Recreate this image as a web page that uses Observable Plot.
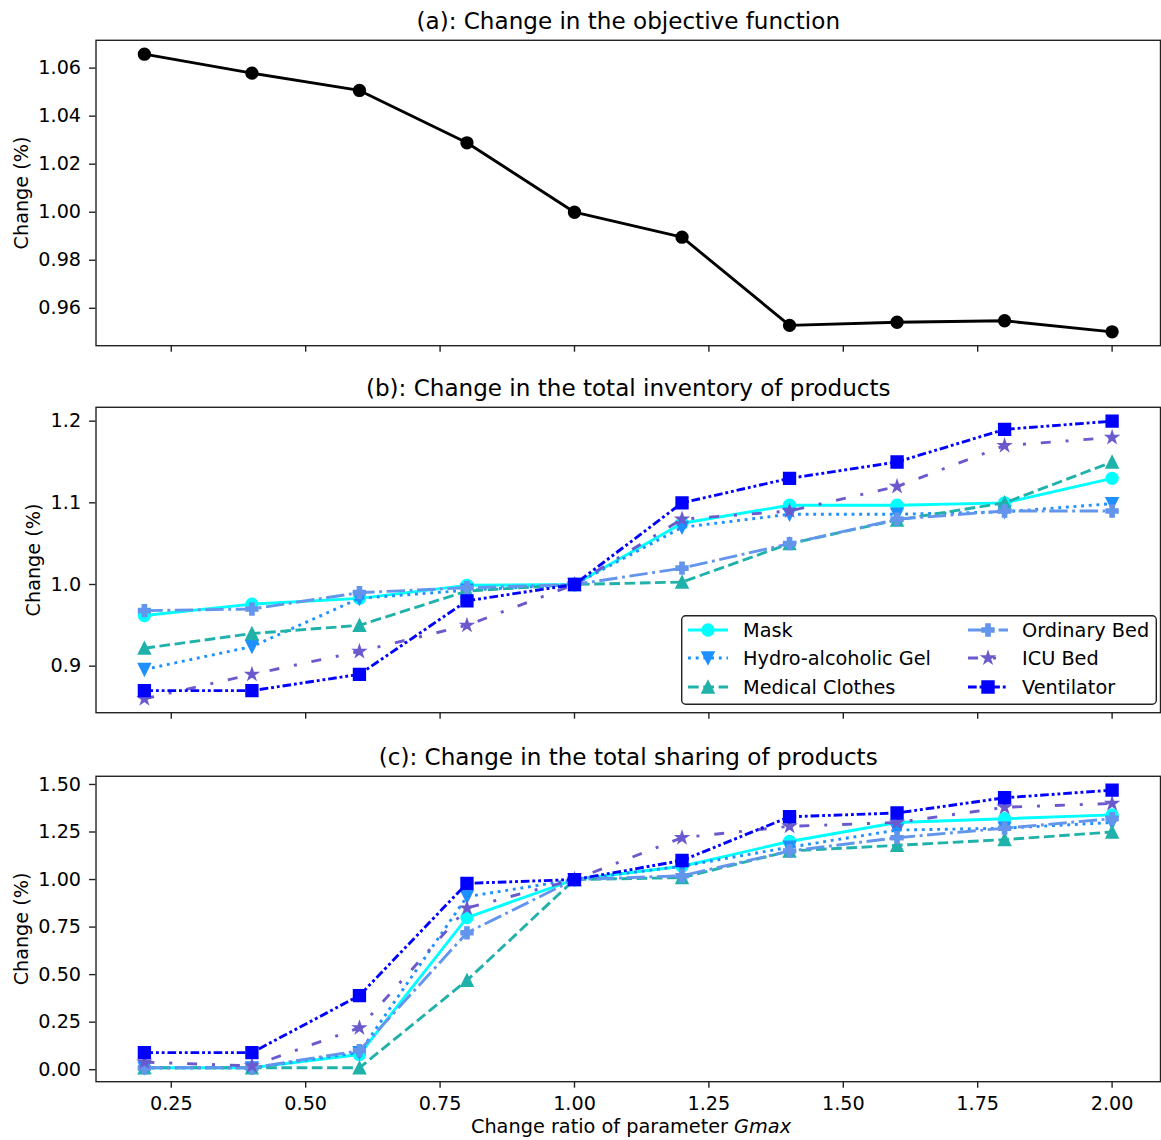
<!DOCTYPE html>
<html><head><meta charset="utf-8">
<script src="https://cdn.jsdelivr.net/npm/d3@7"></script>
<script src="https://cdn.jsdelivr.net/npm/@observablehq/plot@0.6"></script>
<style>
html,body{margin:0;padding:0;background:#fff;overflow:hidden;}
#root{position:relative;width:1161px;height:1140px;overflow:hidden;font-family:"DejaVu Sans",sans-serif;color:#000;}
.panel{position:absolute;left:0;}
#xlabel{position:absolute;left:96px;width:1070px;top:1117px;text-align:center;font-size:19.3px;line-height:20px;}
#legend{position:absolute;left:681px;top:615px;}
</style></head><body><div id="root"><div id="xlabel">Change ratio of parameter <i>Gmax</i></div></div>
<script>
// ---------- data ----------
const ratios = [0.2, 0.4, 0.6, 0.8, 1.0, 1.2, 1.4, 1.6, 1.8, 2.0];
const objective = [1.0658, 1.0579, 1.0507, 1.0289, 1.0000, 0.9896, 0.9529, 0.9542, 0.9548, 0.9502];

const seriesNames = ["Mask", "Hydro-alcoholic Gel", "Medical Clothes", "Ordinary Bed", "ICU Bed", "Ventilator"];

const inventoryMask     = [0.962, 0.976, 0.983, 0.999, 1.000, 1.075, 1.097, 1.097, 1.100, 1.130];
const inventoryGel      = [0.896, 0.924, 0.983, 0.993, 1.000, 1.070, 1.086, 1.086, 1.089, 1.099];
const inventoryClothes  = [0.922, 0.940, 0.950, 0.992, 1.000, 1.003, 1.050, 1.079, 1.100, 1.150];
const inventoryOrdinary = [0.968, 0.970, 0.990, 0.996, 1.000, 1.020, 1.050, 1.080, 1.090, 1.090];
const inventoryICU      = [0.860, 0.890, 0.918, 0.950, 1.000, 1.080, 1.090, 1.120, 1.170, 1.180];
const inventoryVent     = [0.870, 0.870, 0.890, 0.980, 1.000, 1.100, 1.130, 1.150, 1.190, 1.200];

const sharingMask     = [0.01, 0.01, 0.08, 0.80, 1.00, 1.07, 1.20, 1.30, 1.32, 1.34];
const sharingGel      = [0.01, 0.01, 0.09, 0.91, 1.00, 1.07, 1.17, 1.26, 1.27, 1.30];
const sharingClothes  = [0.01, 0.01, 0.01, 0.47, 1.00, 1.01, 1.15, 1.18, 1.21, 1.25];
const sharingOrdinary = [0.01, 0.01, 0.10, 0.72, 1.00, 1.02, 1.15, 1.22, 1.27, 1.32];
const sharingICU      = [0.04, 0.02, 0.22, 0.85, 1.00, 1.22, 1.28, 1.30, 1.38, 1.40];
const sharingVent     = [0.09, 0.09, 0.39, 0.98, 1.00, 1.10, 1.33, 1.35, 1.43, 1.47];

const xTicks  = [0.25, 0.50, 0.75, 1.00, 1.25, 1.50, 1.75, 2.00];
const yTicksA = [0.96, 0.98, 1.00, 1.02, 1.04, 1.06];
const yTicksB = [0.9, 1.0, 1.1, 1.2];
const yTicksC = [0.00, 0.25, 0.50, 0.75, 1.00, 1.25, 1.50];

const titles = ["(a): Change in the objective function",
                "(b): Change in the total inventory of products",
                "(c): Change in the total sharing of products"];
const yLabel = "Change (%)";

// ---------- styles ----------
function poly(ctx, pts){ ctx.moveTo(pts[0][0], pts[0][1]); for (let i=1;i<pts.length;i++) ctx.lineTo(pts[i][0], pts[i][1]); ctx.closePath(); }
const sym = {
  circle: {draw(ctx, size){ const h = Math.sqrt(size/Math.PI); ctx.moveTo(h,0); ctx.arc(0,0,h,0,2*Math.PI); }},
  square: {draw(ctx, size){ const h = Math.sqrt(size/Math.PI); ctx.rect(-h,-h,2*h,2*h); }},
  triUp:  {draw(ctx, size){ const h = Math.sqrt(size/Math.PI); poly(ctx, [[0,-h],[-h,h],[h,h]]); }},
  triDown:{draw(ctx, size){ const h = Math.sqrt(size/Math.PI); poly(ctx, [[0,h],[-h,-h],[h,-h]]); }},
  star:   {draw(ctx, size){ const h = Math.sqrt(size/Math.PI); const inner = h*0.381966; const pts=[];
            for (let i=0;i<10;i++){ const a = -Math.PI/2 + i*Math.PI/5; const rr = i%2===0 ? h : inner; pts.push([rr*Math.cos(a), rr*Math.sin(a)]); }
            poly(ctx, pts); }},
  plus:   {draw(ctx, size){ const h = Math.sqrt(size/Math.PI); const a = h/3;
            poly(ctx, [[-a,-h],[a,-h],[a,-a],[h,-a],[h,a],[a,a],[a,h],[-a,h],[-a,a],[-h,a],[-h,-a],[-a,-a]]); }}
};
const seriesStyle = [
  {color: "#00FFFF", dash: null,                    symbol: sym.circle},
  {color: "#1E90FF", dash: "2.9,4.8",               symbol: sym.triDown},
  {color: "#20B2AA", dash: "10.7,4.6",              symbol: sym.triUp},
  {color: "#6495ED", dash: "18.5,4.6,2.9,4.6",      symbol: sym.plus},
  {color: "#6A5ACD", dash: "10,15,3,15",            symbol: sym.star},
  {color: "#0000FF", dash: "8.7,2.9,2.9,2.9,2.9,2.9", symbol: sym.square}
];
const LW = 2.9, MR = 5.8, MEW = 1.8, FS = 19.3, TFS = 23.2, TICK = 6.5;

const xDomain = [0.11, 2.09];
function padDomain(arrs){ const all = arrs.flat(); const [lo, hi] = d3.extent(all); const m = (hi-lo)*0.05; return [lo-m, hi+m]; }

function seriesMarks(valuesList){
  const marks = [];
  valuesList.forEach((vals, i) => {
    const s = seriesStyle[i];
    marks.push(Plot.line(vals, {x: ratios, y: vals, stroke: s.color, strokeWidth: LW, strokeDasharray: s.dash || undefined, strokeLinecap: "butt", strokeLinejoin: "round"}));
    marks.push(Plot.dot(vals, {x: ratios, y: vals, symbol: s.symbol, r: MR, fill: s.color, stroke: s.color, strokeWidth: MEW}));
  });
  return marks;
}

function makePanel({top, height, marginTop, marginBottom, yDomain, yTicks, yFormat, title, showXLabels, ylabelDx, marks}){
  const plot = Plot.plot({
    width: 1167, height, marginLeft: 96, marginRight: 1, marginTop, marginBottom,
    style: {fontFamily: '"DejaVu Sans", sans-serif', fontSize: FS + "px", color: "#000", background: "transparent", overflow: "visible"},
    x: {domain: xDomain},
    y: {domain: yDomain},
    marks: [
      ...marks,
      Plot.frame({stroke: "#222", strokeWidth: 1.4}),
      Plot.axisX({ticks: xTicks, tickSize: TICK, tickPadding: 8, tickFormat: showXLabels ? d3.format(".2f") : () => "", label: null, stroke: "#222", strokeWidth: 1.4, fontSize: FS}),
      Plot.axisY({ticks: yTicks, tickSize: TICK, tickPadding: 8.5, tickFormat: yFormat, label: null, stroke: "#222", strokeWidth: 1.4, fontSize: FS}),
      Plot.text([title], {text: d => d, frameAnchor: "top", lineAnchor: "bottom", dy: -11, fontSize: TFS, fill: "#000"}),
      Plot.text([yLabel], {text: d => d, frameAnchor: "left", rotate: -90, dx: ylabelDx, textAnchor: "middle", lineAnchor: "middle", fontSize: FS, fill: "#000"})
    ]
  });
  const wrap = document.createElement("div");
  wrap.className = "panel";
  wrap.style.top = top + "px";
  wrap.appendChild(plot);
  document.getElementById("root").appendChild(wrap);
}

// Panel (a)
makePanel({
  top: 0, height: 367, marginTop: 40, marginBottom: 20,
  yDomain: padDomain([objective]), yTicks: yTicksA, yFormat: d3.format(".2f"),
  title: titles[0], showXLabels: false, ylabelDx: -75,
  marks: [
    Plot.line(objective, {x: ratios, y: objective, stroke: "#000", strokeWidth: LW}),
    Plot.dot(objective, {x: ratios, y: objective, symbol: sym.circle, r: MR, fill: "#000", stroke: "#000", strokeWidth: MEW})
  ]
});

// Panel (b)
const inventory = [inventoryMask, inventoryGel, inventoryClothes, inventoryOrdinary, inventoryICU, inventoryVent];
makePanel({
  top: 367, height: 367, marginTop: 40, marginBottom: 20,
  yDomain: padDomain(inventory), yTicks: yTicksB, yFormat: d3.format(".1f"),
  title: titles[1], showXLabels: false, ylabelDx: -62,
  marks: seriesMarks(inventory)
});

// Panel (c)
const sharing = [sharingMask, sharingGel, sharingClothes, sharingOrdinary, sharingICU, sharingVent];
makePanel({
  top: 734, height: 384, marginTop: 42, marginBottom: 35,
  yDomain: padDomain(sharing), yTicks: yTicksC, yFormat: d3.format(".2f"),
  title: titles[2], showXLabels: true, ylabelDx: -75,
  marks: seriesMarks(sharing)
});

// Legend (panel b)
(function(){
  const W = 476, H = 90;
  const div = d3.select("#root").append("div").attr("id", "legend");
  const svg = div.append("svg").attr("width", W).attr("height", H).style("font-family", '"DejaVu Sans", sans-serif').style("font-size", FS + "px");
  svg.append("rect").attr("x", 0.7).attr("y", 0.7).attr("width", W-1.4).attr("height", H-1.4).attr("rx", 4)
     .attr("fill", "rgba(255,255,255,0.85)").attr("stroke", "#222").attr("stroke-width", 1.4);
  const rows = [15, 43, 72];
  const cols = [{x0: 7, tx: 62}, {x0: 287, tx: 341}];
  seriesNames.forEach((name, i) => {
    const s = seriesStyle[i];
    const c = cols[Math.floor(i/3)], y = rows[i%3];
    svg.append("line").attr("x1", c.x0).attr("x2", c.x0+40).attr("y1", y).attr("y2", y)
      .attr("stroke", s.color).attr("stroke-width", LW).attr("stroke-dasharray", s.dash).attr("stroke-linecap", "butt");
    const p = d3.path(); s.symbol.draw(p, Math.PI*MR*MR);
    svg.append("path").attr("d", p.toString()).attr("transform", `translate(${c.x0+20},${y})`)
      .attr("fill", s.color).attr("stroke", s.color).attr("stroke-width", MEW);
    svg.append("text").attr("x", c.tx).attr("y", y).attr("dy", "0.35em").attr("fill", "#000").text(name);
  });
})();
</script></body></html>
